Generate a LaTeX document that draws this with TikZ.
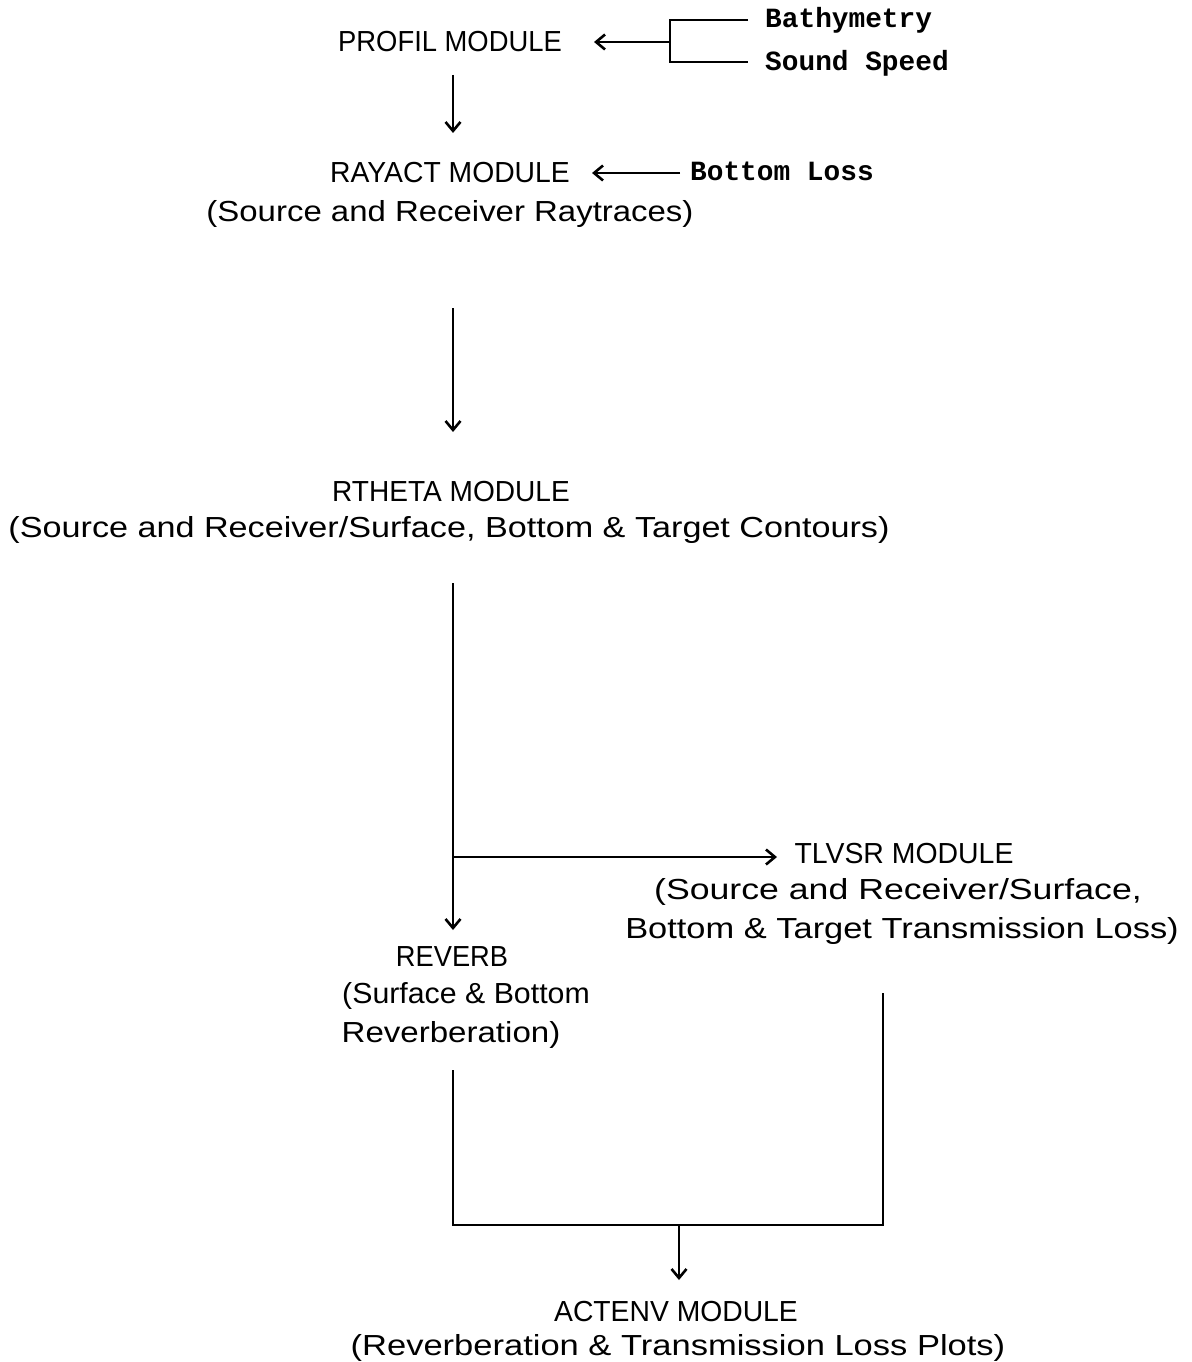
\documentclass[tikz,border=0pt]{standalone}
\usepackage{fontspec}
\setmainfont{Liberation Sans}
\newfontfamily\typew{Liberation Mono}
\usetikzlibrary{arrows.meta}
\newcommand{\sx}[2]{\scalebox{#1}[1]{#2}}
\begin{document}
\begin{tikzpicture}[x=1pt,y=-1pt,
  lbl/.style={inner sep=0pt,anchor=center,font=\fontsize{29}{34}\selectfont},
  inp/.style={inner sep=0pt,anchor=west,font=\typew\bfseries\fontsize{27.8}{34}\selectfont},
  conn/.style={line width=2.7pt},
  arr/.style={conn,-{Straight Barb[length=9pt,width=15pt,line width=2.6pt]}}]
\useasboundingbox (0,0) rectangle (1191,1362);
% labels
\node[lbl] (profil) at (450,42) {\sx{0.944}{PROFIL MODULE}};
\node[inp] (bath) at (765,20) {Bathymetry};
\node[inp] (sound) at (765,63) {Sound Speed};
\node[lbl] (rayact) at (450,173) {\sx{0.976}{RAYACT MODULE}};
\node[inp] (bloss) at (690,171) {Bottom Loss};
\node[lbl] (rayact2) at (450,214) {\sx{1.136}{(Source and Receiver Raytraces)}};
\node[lbl] (rtheta) at (451,492) {\sx{0.968}{RTHETA MODULE}};
\node[lbl] (rtheta2) at (449,530) {\sx{1.178}{(Source and Receiver/Surface, Bottom \& Target Contours)}};
\node[lbl] (tlvsr) at (904,854) {\sx{0.98}{TLVSR MODULE}};
\node[lbl] (tlvsr2) at (898,892) {\sx{1.23}{(Source and Receiver/Surface,}};
\node[lbl] (tlvsr3) at (902,931) {\sx{1.187}{Bottom \& Target Transmission Loss)}};
\node[lbl] (reverb) at (452,957) {\sx{0.94}{REVERB}};
\node[lbl] (reverb2) at (466,996) {\sx{1.045}{(Surface \& Bottom}};
\node[lbl] (reverb3) at (451,1035) {\sx{1.14}{Reverberation)}};
\node[lbl] (actenv) at (676,1312) {\sx{0.976}{ACTENV MODULE}};
\node[lbl] (actenv2) at (678,1348) {\sx{1.19}{(Reverberation \& Transmission Loss Plots)}};
% junction coordinates
\coordinate (bj) at (670,42);
\coordinate (bjt) at (670,20);
\coordinate (bjb) at (670,62);
\coordinate (bte) at (748,20);
\coordinate (bbe) at (748,62);
\coordinate (pa) at (594,42);
\coordinate (p1) at (453,75);
\coordinate (p2) at (453,133);
\coordinate (ba) at (680,173);
\coordinate (rb) at (592,173);
\coordinate (r1) at (453,308);
\coordinate (r2) at (453,432);
\coordinate (t1) at (453,583);
\coordinate (t2) at (453,930);
\coordinate (tb) at (453,857);
\coordinate (tl) at (777,857);
\coordinate (v1) at (453,1070);
\coordinate (v2) at (453,1225);
\coordinate (w1) at (883,993);
\coordinate (w2) at (883,1225);
\coordinate (m1) at (679,1225);
\coordinate (m2) at (679,1280);
% connectors
\draw[conn] (bte) -- (bjt) -- (bjb) -- (bbe);
\draw[arr] (bj) -- (pa);
\draw[arr] (p1) -- (p2);
\draw[arr] (ba) -- (rb);
\draw[arr] (r1) -- (r2);
\draw[arr] (t1) -- (t2);
\draw[arr] (tb) -- (tl);
\draw[conn] (v1) -- (v2) -- (w2) -- (w1);
\draw[arr] (m1) -- (m2);
\end{tikzpicture}
\end{document}
